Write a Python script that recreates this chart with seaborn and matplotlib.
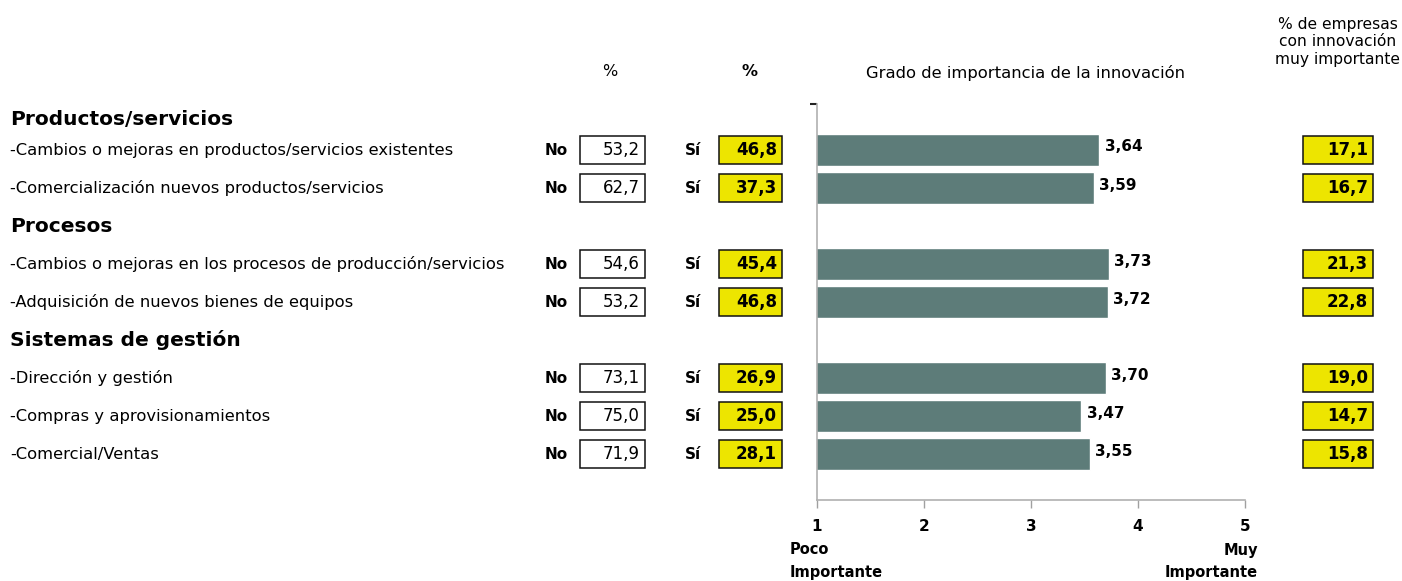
import matplotlib
matplotlib.use("Agg")
import matplotlib.pyplot as plt
import matplotlib.transforms as mtransforms
from matplotlib.patches import Rectangle
import seaborn as sns
import pandas as pd

# Innovation types, grouped by area
groups = ["Productos/servicios", "Procesos", "Sistemas de gestión"]
items = [
    "-Cambios o mejoras en productos/servicios existentes",
    "-Comercialización nuevos productos/servicios",
    "-Cambios o mejoras en los procesos de producción/servicios",
    "-Adquisición de nuevos bienes de equipos",
    "-Dirección y gestión",
    "-Compras y aprovisionamientos",
    "-Comercial/Ventas",
]
item_group = [0, 0, 1, 1, 2, 2, 2]
pct_no = [53.2, 62.7, 54.6, 53.2, 73.1, 75.0, 71.9]
pct_si = [46.8, 37.3, 45.4, 46.8, 26.9, 25.0, 28.1]
importance = [3.64, 3.59, 3.73, 3.72, 3.70, 3.47, 3.55]
pct_very_important = [17.1, 16.7, 21.3, 22.8, 19.0, 14.7, 15.8]
scale_ticks = [1, 2, 3, 4, 5]

W, H = 1402, 581
sns.set_style("white")
plt.rcParams["font.family"] = ["DejaVu Sans"]
plt.rcParams["text.color"] = "black"
plt.rcParams["xtick.color"] = "black"
plt.rcParams["ytick.color"] = "black"
fig = plt.figure(figsize=(W / 100, H / 100), dpi=100)

def fx(px):
    return px / W

def fy(py):
    return 1 - py / H

# Row layout: each group header takes one slot, followed by its items
slots = []
header_slots = []
pos = 0
for g in range(len(groups)):
    header_slots.append(pos + (0.2 if g == 0 else 0.0))
    pos += 1
    for i, ig in enumerate(item_group):
        if ig == g:
            slots.append(pos)
            pos += 1

ax = fig.add_axes([fx(817), fy(500), fx(1245) - fx(817), fy(104) - fy(500)])
df = pd.DataFrame({"item": items, "score": importance, "slot": slots})
sns.barplot(data=df, x="score", y="slot", orient="h", native_scale=True,
            width=0.84, color="#5d7c79", saturation=1, ax=ax)
ax.set_xlim(1, 5)
ax.set_ylim(10.2, -0.21)
ax.set_xlabel("")
ax.set_ylabel("")
ax.set_xticks(scale_ticks)
ax.set_xticklabels([str(t) for t in scale_ticks], fontsize=11, fontweight="bold")
ax.tick_params(axis="x", length=6, width=1, color="#a0a0a0", labelcolor="black",
               pad=8, bottom=True)
ax.set_yticks([-0.21])
ax.set_yticklabels([""])
ax.tick_params(axis="y", length=5, width=1.5, color="#222222", left=True)
for side in ["top", "right"]:
    ax.spines[side].set_visible(False)
for side in ["left", "bottom"]:
    ax.spines[side].set_color("#b0b0b0")
    ax.spines[side].set_linewidth(1.2)

for s, v in zip(slots, importance):
    ax.text(v + 0.05, s - 0.08, f"{v:.2f}".replace(".", ","), ha="left", va="center",
            fontsize=11, fontweight="bold", color="black")

fig.text(fx(790), fy(550), "Poco", ha="left", va="center", fontsize=10.5, fontweight="bold")
fig.text(fx(790), fy(572), "Importante", ha="left", va="center", fontsize=10.5, fontweight="bold")
fig.text(fx(1258), fy(550), "Muy", ha="right", va="center", fontsize=10.5, fontweight="bold")
fig.text(fx(1258), fy(572), "Importante", ha="right", va="center", fontsize=10.5, fontweight="bold")

# Left-side labels and boxed percentages share the bar axis y coordinates
blend = mtransforms.blended_transform_factory(fig.transFigure, ax.transData)

for g, hs in zip(groups, header_slots):
    ax.text(fx(10), hs, g, transform=blend, ha="left", va="center",
            fontsize=14.5, fontweight="bold", clip_on=False)

def box(x0, x1, s, value, face, bold):
    h = 0.74
    ax.add_patch(Rectangle((fx(x0), s - h / 2), fx(x1) - fx(x0), h, transform=blend,
                           facecolor=face, edgecolor="#111111", linewidth=1.1,
                           clip_on=False, zorder=3))
    ax.text(fx(x1 - 5), s, f"{value:.1f}".replace(".", ","), transform=blend,
            ha="right", va="center", fontsize=12,
            fontweight="bold" if bold else "normal", clip_on=False, zorder=4)

for s, name, no, si, vi in zip(slots, items, pct_no, pct_si, pct_very_important):
    ax.text(fx(10), s, name, transform=blend, ha="left", va="center",
            fontsize=11.8, clip_on=False)
    ax.text(fx(545), s, "No", transform=blend, ha="left", va="center",
            fontsize=11, fontweight="bold", clip_on=False)
    box(580, 645, s, no, "white", False)
    ax.text(fx(685), s, "Sí", transform=blend, ha="left", va="center",
            fontsize=11, fontweight="bold", clip_on=False)
    box(719, 782, s, si, "#ede500", True)
    box(1303, 1373, s, vi, "#ede500", True)

# Column headings
fig.text(fx(610), fy(72), "%", ha="center", va="center", fontsize=11.5)
fig.text(fx(750), fy(72), "%", ha="center", va="center", fontsize=11.5, fontweight="bold")
fig.text(fx(1025), fy(73), "Grado de importancia de la innovación",
         ha="center", va="center", fontsize=11.8)
fig.text(fx(1400), fy(42), "% de empresas\ncon innovación\nmuy importante",
         ha="right", va="center", fontsize=11.2, linespacing=1.2,
         multialignment="center")

fig.savefig("out.png", dpi=100)
